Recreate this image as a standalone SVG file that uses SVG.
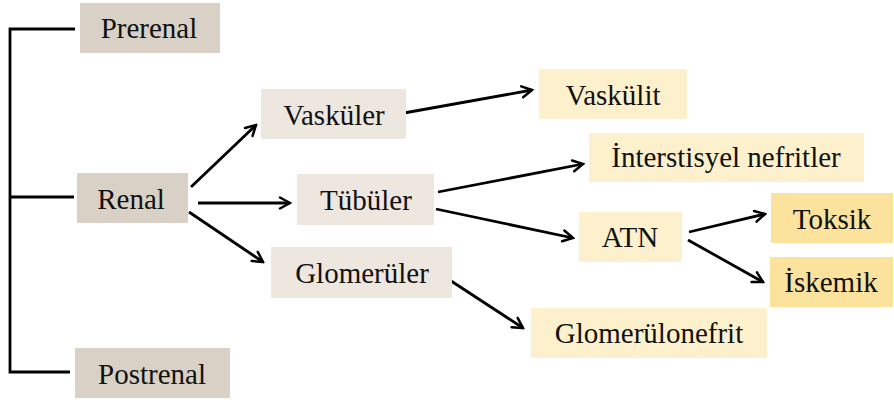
<svg xmlns="http://www.w3.org/2000/svg" width="894" height="402" viewBox="0 0 894 402">
<style>
.t{font-family:"Liberation Serif","Times New Roman",serif;font-size:29px;fill:#111;text-anchor:middle}
.l1{fill:#d9d1c5}
.l2{fill:#ede7e0}
.l3{fill:#fdf1cd}
.l4{fill:#fbe29d}
.c{stroke:#000;stroke-width:2.8;fill:none}
</style>
<defs>
<marker id="ah" viewBox="0 0 14 14" refX="12" refY="7" markerWidth="14" markerHeight="14" markerUnits="userSpaceOnUse" orient="auto">
<polyline points="2,1.5 12,7 2,12.5" fill="none" stroke="#000" stroke-width="2.5" stroke-linecap="round" stroke-linejoin="miter"/>
</marker>
</defs>
<rect width="894" height="402" fill="#fff"/>
<g id="connectors">
<polyline class="c" points="75,29 10,29 10,372 70,372"/>
<line class="c" x1="10" y1="197" x2="74" y2="197"/>
<line class="c" x1="191" y1="187" x2="256" y2="125" marker-end="url(#ah)"/>
<line class="c" x1="198" y1="203" x2="290" y2="203" marker-end="url(#ah)"/>
<line class="c" x1="189" y1="212" x2="263" y2="262" marker-end="url(#ah)"/>
<line class="c" x1="404" y1="113" x2="532" y2="90" marker-end="url(#ah)"/>
<line class="c" x1="438" y1="192" x2="583" y2="164" marker-end="url(#ah)"/>
<line class="c" x1="436" y1="209" x2="573" y2="238" marker-end="url(#ah)"/>
<line class="c" x1="445" y1="277" x2="523" y2="328" marker-end="url(#ah)"/>
<line class="c" x1="689" y1="232" x2="765" y2="214" marker-end="url(#ah)"/>
<line class="c" x1="688" y1="240" x2="763" y2="282" marker-end="url(#ah)"/>
</g>
<g id="prerenal"><rect class="l1" x="80" y="3" width="140" height="50"/><text class="t" x="149" y="38">Prerenal</text></g>
<g id="renal"><rect class="l1" x="77" y="173" width="111" height="50"/><text class="t" x="131" y="209">Renal</text></g>
<g id="postrenal"><rect class="l1" x="75" y="348" width="155" height="50"/><text class="t" x="152" y="384">Postrenal</text></g>
<g id="vaskuler"><rect class="l2" x="261" y="89" width="145" height="50"/><text class="t" x="334" y="125">Vasküler</text></g>
<g id="tubuler"><rect class="l2" x="297" y="174" width="137" height="51"/><text class="t" x="366" y="210">Tübüler</text></g>
<g id="glomeruler"><rect class="l2" x="271" y="247" width="181" height="51"/><text class="t" x="362" y="283">Glomerüler</text></g>
<g id="vaskulit"><rect class="l3" x="539" y="69" width="148" height="50"/><text class="t" x="613" y="105">Vaskülit</text></g>
<g id="interstisyel"><rect class="l3" x="589" y="133" width="275" height="49"/><text class="t" x="726" y="167">İnterstisyel nefritler</text></g>
<g id="atn"><rect class="l3" x="579" y="212" width="103" height="50"/><text class="t" x="630" y="247">ATN</text></g>
<g id="glomerulonefrit"><rect class="l3" x="531" y="308" width="236" height="50"/><text class="t" x="649" y="343">Glomerülonefrit</text></g>
<g id="toksik"><rect class="l4" x="771" y="193" width="122" height="50"/><text class="t" x="832" y="229">Toksik</text></g>
<g id="iskemik"><rect class="l4" x="770" y="257" width="123" height="50"/><text class="t" x="831" y="292">İskemik</text></g>
</svg>
